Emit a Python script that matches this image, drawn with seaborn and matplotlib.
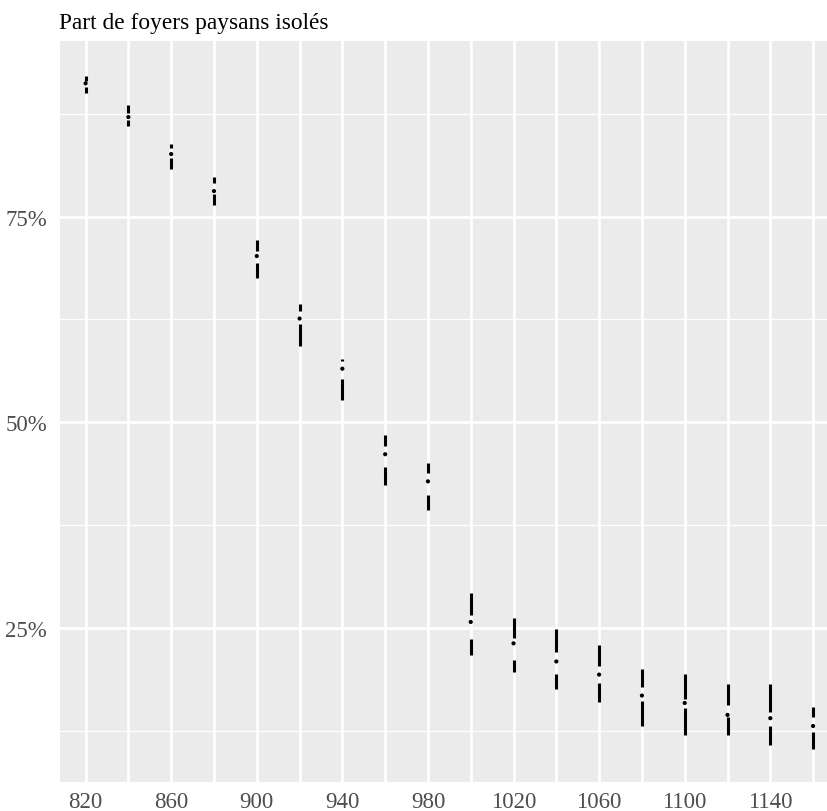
import pandas as pd
import seaborn as sns
import matplotlib.pyplot as plt
import matplotlib
matplotlib.use('agg')

# periods (years) and the share of isolated peasant households (%)
years = [820, 840, 860, 880, 900, 920, 940, 960, 980,
         1000, 1020, 1040, 1060, 1080, 1100, 1120, 1140, 1160]
max_share = [92.1, 88.6, 83.8, 79.8, 72.1, 64.4, 57.7, 48.4, 45.0,
             29.2, 26.2, 24.9, 22.9, 20.0, 19.4, 18.2, 18.1, 15.4]
q3_share = [91.45, 87.6, 83.3, 79.1, 70.8, 63.5, 57.4, 47.1, 43.8,
            26.6, 23.8, 22.0, 20.4, 17.8, 16.3, 15.6, 14.8, 14.1]
median_share = [91.2, 87.1, 82.6, 78.1, 70.2, 62.6, 56.5, 46.1, 42.8,
                25.7, 23.1, 20.9, 19.3, 16.75, 15.85, 14.4, 14.0, 13.05]
q1_share = [90.7, 86.8, 82.1, 77.7, 69.3, 61.9, 55.2, 44.6, 41.2,
            23.6, 21.05, 19.4, 18.25, 16.1, 15.2, 14.15, 13.05, 12.3]
min_share = [90.0, 86.0, 80.8, 76.4, 67.5, 59.2, 52.7, 42.4, 39.3,
             21.65, 19.6, 17.6, 16.0, 13.1, 11.95, 12.0, 10.7, 10.3]

df = pd.DataFrame({
    "annee": years,
    "max": max_share,
    "q3": q3_share,
    "median": median_share,
    "q1": q1_share,
    "min": min_share,
})

sns.set_theme(style="darkgrid", rc={
    "axes.facecolor": "#EBEBEB",
    "grid.color": "white",
    "xtick.color": "#333333",
    "ytick.color": "#333333",
    "xtick.labelcolor": "#4D4D4D",
    "ytick.labelcolor": "#4D4D4D",
})
plt.rcParams['font.family'] = ['Liberation Serif', 'DejaVu Serif']

fig = plt.figure(figsize=(8.27, 8.12), dpi=100)
ax = fig.add_axes([59.5 / 827, 1 - 782.5 / 812, 1 - 59.5 / 827, (782.5 - 42) / 812])

# Tufte style boxplot: whiskers with a gap around the median point
ax.vlines(df["annee"], df["q3"], df["max"], color="black", linewidth=2.2, zorder=3)
ax.vlines(df["annee"], df["min"], df["q1"], color="black", linewidth=2.2, zorder=3)
sns.scatterplot(data=df, x="annee", y="median", color="black", s=9,
                edgecolor="none", ax=ax, zorder=4)

ax.set_xlim(807.8, 1166.5)
ax.set_ylim(6.3, 96.35)

ax.set_xticks(years)
ax.set_xticklabels([str(y) if i % 2 == 0 else "" for i, y in enumerate(years)])
ax.set_yticks([25, 50, 75])
ax.set_yticklabels(["25%", "50%", "75%"])
ax.set_yticks([12.5, 37.5, 62.5, 87.5], minor=True)

ax.grid(which="major", color="white", linewidth=1.9)
ax.grid(which="minor", axis="y", color="white", linewidth=0.9)
ax.tick_params(which="major", length=4, width=1.4, labelsize=16.5)
ax.tick_params(axis="y", pad=5)
ax.tick_params(axis="x", pad=3)
ax.tick_params(which="minor", length=0)
for s in ax.spines.values():
    s.set_visible(False)

ax.set_xlabel("")
ax.set_ylabel("")

fig.text(59 / 827, 1 - 29 / 812, "Part de foyers paysans isolés",
         fontsize=16.8, color="black", ha="left", va="baseline")

fig.savefig("out.png", dpi=100)
